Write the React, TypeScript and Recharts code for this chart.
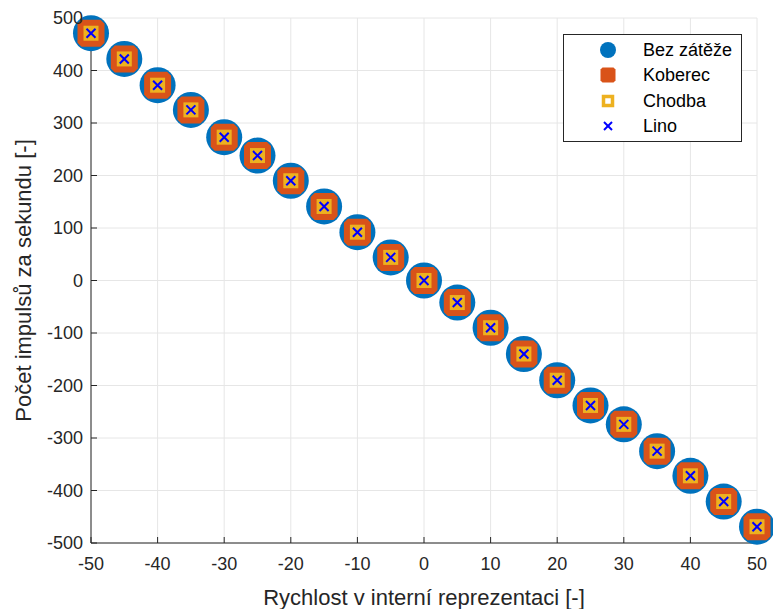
import React from 'react';
import { ScatterChart, Scatter, XAxis, YAxis, CartesianGrid } from 'recharts';

const xValues = [-50, -45, -40, -35, -30, -25, -20, -15, -10, -5, 0, 5, 10, 15, 20, 25, 30, 35, 40, 45, 50];
const yBez = [471, 422, 372, 325, 273, 238, 190, 141, 92, 44, 0, -42, -90, -140, -190, -238, -274, -325, -372, -421, -469];
const yKoberec = [471, 422, 372, 325, 273, 238, 190, 141, 92, 44, 0, -42, -90, -140, -190, -238, -274, -325, -372, -421, -469];
const yChodba = [471, 422, 372, 325, 273, 238, 190, 141, 92, 44, 0, -42, -90, -140, -190, -238, -274, -325, -372, -421, -469];
const yLino = [471, 422, 372, 325, 273, 238, 190, 141, 92, 44, 0, -42, -90, -140, -190, -238, -274, -325, -372, -421, -469];
const xTicks = [-50, -40, -30, -20, -10, 0, 10, 20, 30, 40, 50];
const yTicks = [-500, -400, -300, -200, -100, 0, 100, 200, 300, 400, 500];
const seriesNames = ['Bez zátěže', 'Koberec', 'Chodba', 'Lino'];

const toData = (ys: number[]) => xValues.map((x, i) => ({ x, y: ys[i] }));

const BLUE = '#0072BD';
const ORANGE = '#D95319';
const YELLOW = '#EDB120';
const XBLUE = '#0000FF';
const FONT = 'Liberation Sans, Arial, Helvetica, sans-serif';
const TXT = '#262626';

const octagon = (cx: number, cy: number, r: number, cut: number) => {
  const a = r, c = r - cut;
  const pts = [
    [cx - c, cy - a], [cx + c, cy - a], [cx + a, cy - c], [cx + a, cy + c],
    [cx + c, cy + a], [cx - c, cy + a], [cx - a, cy + c], [cx - a, cy - c],
  ];
  return pts.map((p) => p.join(',')).join(' ');
};

const BlueShape = (p: any) => <circle cx={p.cx} cy={p.cy} r={18} fill={BLUE} />;
const OrangeShape = (p: any) => <polygon points={octagon(p.cx, p.cy, 13.5, 4)} fill={ORANGE} />;
const YellowShape = (p: any) => <rect x={p.cx - 7.5} y={p.cy - 7.5} width={15} height={15} fill={YELLOW} />;
const XShape = (p: any) => (
  <g stroke={XBLUE} strokeWidth={2}>
    <line x1={p.cx - 4.5} y1={p.cy - 4.5} x2={p.cx + 4.5} y2={p.cy + 4.5} />
    <line x1={p.cx - 4.5} y1={p.cy + 4.5} x2={p.cx + 4.5} y2={p.cy - 4.5} />
  </g>
);

const LegendBox = () => {
  const rows = [16, 41, 67, 92];
  const mx = 45;
  return (
    <svg width={179} height={108} style={{ display: 'block' }}>
      <rect x={0.5} y={0.5} width={178} height={107} fill="#fff" stroke={TXT} strokeWidth={1} />
      <circle cx={mx} cy={rows[0]} r={8} fill={BLUE} />
      <polygon points={octagon(mx, rows[1], 7.5, 2)} fill={ORANGE} />
      <rect x={mx - 4.5} y={rows[2] - 4.5} width={9} height={9} fill="#fff" stroke={YELLOW} strokeWidth={3.5} />
      <g stroke={XBLUE} strokeWidth={2}>
        <line x1={mx - 4} y1={rows[3] - 4} x2={mx + 4} y2={rows[3] + 4} />
        <line x1={mx - 4} y1={rows[3] + 4} x2={mx + 4} y2={rows[3] - 4} />
      </g>
      {seriesNames.map((n, i) => (
        <text key={n} x={80} y={rows[i]} dy="0.35em" fontSize={18} fontFamily={FONT} fill="#000">
          {n}
        </text>
      ))}
    </svg>
  );
};

export default function App() {
  return (
    <div style={{ position: 'absolute', left: 0, top: 0, width: 773, height: 609, background: '#fff' }}>
      <ScatterChart width={773} height={609} margin={{ top: 18, right: 16, left: 31, bottom: 36 }}>
        <CartesianGrid stroke="#e6e6e6" strokeWidth={1} horizontalValues={yTicks} verticalValues={xTicks} />
        <XAxis
          type="number"
          dataKey="x"
          domain={[-50, 50]}
          ticks={xTicks}
          interval={0}
          height={30}
          stroke={TXT}
          tickSize={-6}
          tickMargin={20}
          tick={{ fill: TXT, fontSize: 18, fontFamily: FONT }}
          label={{ value: 'Rychlost v interní reprezentaci [-]', position: 'bottom', offset: 16, fill: TXT, fontSize: 22, fontFamily: FONT }}
        />
        <XAxis xAxisId="top" type="number" orientation="top" domain={[-50, 50]} ticks={xTicks} height={0} stroke={TXT} tickSize={-6} tick={false} />
        <YAxis
          type="number"
          dataKey="y"
          domain={[-500, 500]}
          ticks={yTicks}
          interval={0}
          width={60}
          stroke={TXT}
          tickSize={-6}
          tickMargin={14}
          tick={{ fill: TXT, fontSize: 18, fontFamily: FONT }}
          label={{ value: 'Počet impulsů za sekundu [-]', angle: -90, position: 'insideLeft', offset: -8, style: { textAnchor: 'middle' }, fill: TXT, fontSize: 22, fontFamily: FONT }}
        />
        <YAxis yAxisId="right" type="number" orientation="right" domain={[-500, 500]} ticks={yTicks} width={0} stroke={TXT} tickSize={-6} tick={false} />
        <Scatter name={seriesNames[0]} data={toData(yBez)} shape={BlueShape} isAnimationActive={false} />
        <Scatter name={seriesNames[1]} data={toData(yKoberec)} shape={OrangeShape} isAnimationActive={false} />
        <Scatter name={seriesNames[2]} data={toData(yChodba)} shape={YellowShape} isAnimationActive={false} />
        <Scatter name={seriesNames[3]} data={toData(yLino)} shape={XShape} isAnimationActive={false} />
      </ScatterChart>
      <div style={{ position: 'absolute', left: 563, top: 34 }}>
        <LegendBox />
      </div>
    </div>
  );
}
